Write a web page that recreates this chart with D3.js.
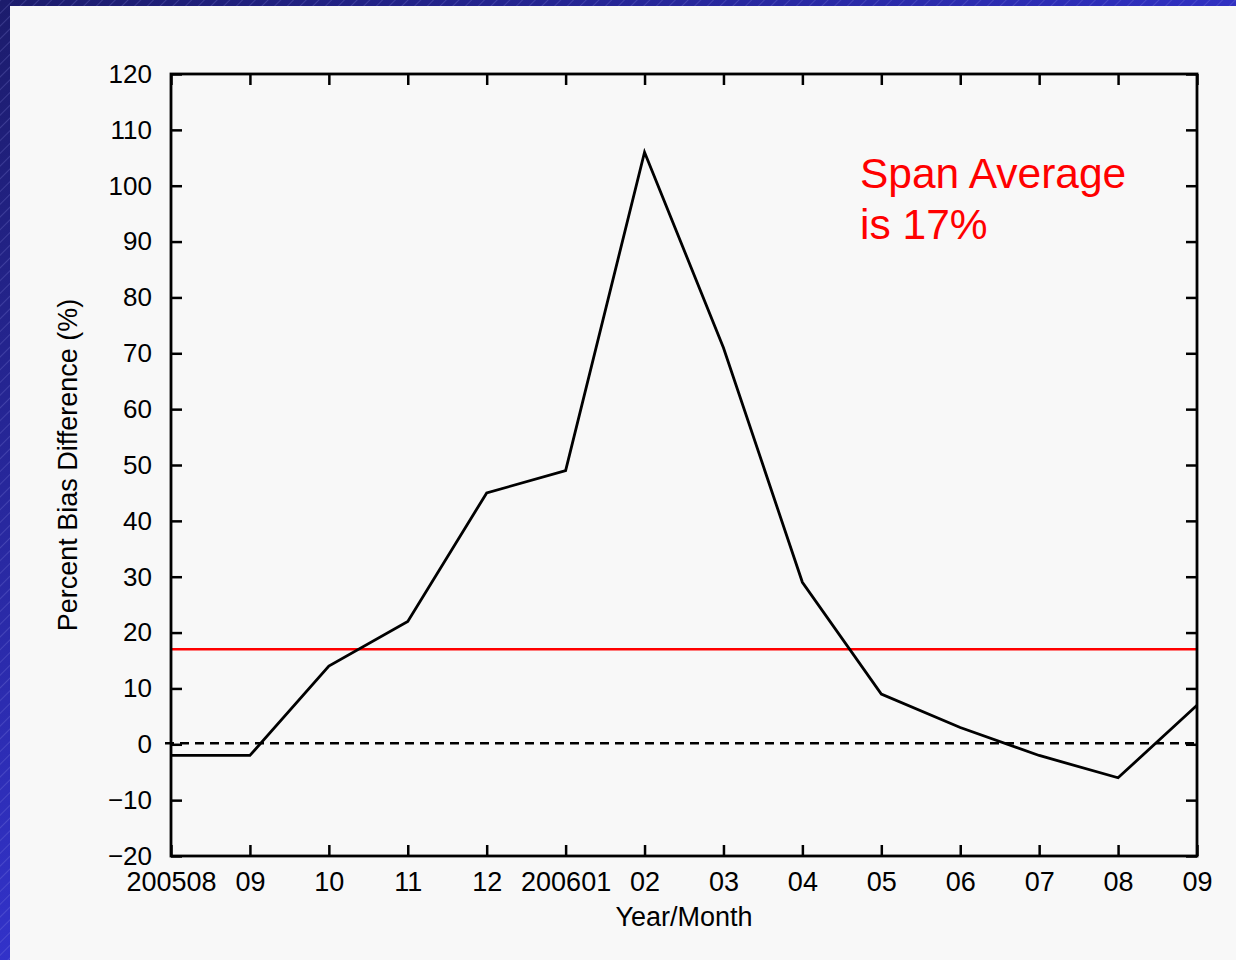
<!DOCTYPE html>
<html>
<head>
<meta charset="utf-8">
<script src="https://cdn.jsdelivr.net/npm/d3@7"></script>
<style>
  body { margin: 0; background: #f8f8f8; }
  svg text { font-family: "Liberation Sans", Helvetica, Arial, sans-serif; }
</style>
</head>
<body>
<div id="chart"></div>
<script>
// Monthly percent bias difference, 2005/08 .. 2006/09
const months = ["200508", "09", "10", "11", "12", "200601", "02", "03", "04", "05", "06", "07", "08", "09"];
const biasDiff = [-2, -2, 14, 22, 45, 49, 106, 71, 29, 9, 3, -2, -6, 7];
const spanAverage = 17;
const yTicks = [-20, -10, 0, 10, 20, 30, 40, 50, 60, 70, 80, 90, 100, 110, 120];

const W = 1236, H = 960;
const margin = {top: 74, right: 39, bottom: 104, left: 171};
const width = W - margin.left - margin.right;
const height = H - margin.top - margin.bottom;

const root = d3.select("#chart").append("svg")
  .attr("width", W)
  .attr("height", H);

// Slide background: blue hatched frame
const defs = root.append("defs");
const grad = defs.append("linearGradient")
  .attr("id", "blueGrad")
  .attr("gradientUnits", "userSpaceOnUse")
  .attr("x1", 0).attr("y1", 0).attr("x2", 500).attr("y2", 700);
grad.append("stop").attr("offset", 0).attr("stop-color", "#1c1c6c");
grad.append("stop").attr("offset", 1).attr("stop-color", "#3434d2");

const hatch = defs.append("pattern")
  .attr("id", "hatch")
  .attr("patternUnits", "userSpaceOnUse")
  .attr("width", 9).attr("height", 9)
  .attr("patternTransform", "rotate(45)");
hatch.append("line")
  .attr("x1", 0).attr("y1", 0).attr("x2", 0).attr("y2", 9)
  .attr("stroke", "#9a9aee").attr("stroke-width", 1).attr("opacity", 0.45);

root.append("rect").attr("width", W).attr("height", H).attr("fill", "url(#blueGrad)");
root.append("rect").attr("width", W).attr("height", H).attr("fill", "url(#hatch)");
root.append("rect").attr("x", 10).attr("y", 6).attr("width", W - 10).attr("height", H - 6)
  .attr("fill", "#f8f8f8");

const svg = root.append("g")
  .attr("transform", "translate(" + margin.left + "," + margin.top + ")");

let xScale = d3.scalePoint()
  .domain(d3.range(months.length))
  .range([0, width]);

let yScale = d3.scaleLinear()
  .domain([-20, 120])
  .range([height, 0]);

const tickLen = 11;

// Axes: gnuplot style, ticks pointing inwards on all four sides
svg.append("g")
  .attr("class", "x-axis")
  .attr("transform", "translate(0," + height + ")")
  .call(d3.axisBottom(xScale).tickSize(-tickLen).tickPadding(tickLen + 5).tickFormat(i => months[i]))
  .call(g => g.select(".domain").remove())
  .call(g => g.selectAll("line").attr("stroke", "#000").attr("stroke-width", 2.5))
  .call(g => g.selectAll("text").attr("fill", "#000").style("font-size", "27px"));

svg.append("g")
  .attr("class", "x-axis-top")
  .call(d3.axisTop(xScale).tickSize(-tickLen).tickFormat(""))
  .call(g => g.select(".domain").remove())
  .call(g => g.selectAll("line").attr("stroke", "#000").attr("stroke-width", 2.5));

svg.append("g")
  .attr("class", "y-axis")
  .call(d3.axisLeft(yScale).tickValues(yTicks).tickSize(-tickLen).tickPadding(tickLen + 8)
    .tickFormat(d => d < 0 ? "\u2212" + Math.abs(d) : d))
  .call(g => g.select(".domain").remove())
  .call(g => g.selectAll("line").attr("stroke", "#000").attr("stroke-width", 2.5))
  .call(g => g.selectAll("text").attr("fill", "#000").style("font-size", "26px"));

svg.append("g")
  .attr("class", "y-axis-right")
  .attr("transform", "translate(" + width + ",0)")
  .call(d3.axisRight(yScale).tickValues(yTicks).tickSize(-tickLen).tickFormat(""))
  .call(g => g.select(".domain").remove())
  .call(g => g.selectAll("line").attr("stroke", "#000").attr("stroke-width", 2.5));

// Zero reference (dashed) and span average (red)
svg.append("line")
  .attr("x1", -6).attr("x2", width)
  .attr("y1", yScale(0) - 1).attr("y2", yScale(0) - 1)
  .attr("stroke", "#000").attr("stroke-width", 2.5)
  .attr("stroke-dasharray", "9,6");

svg.append("line")
  .attr("x1", 0).attr("x2", width)
  .attr("y1", yScale(spanAverage)).attr("y2", yScale(spanAverage))
  .attr("stroke", "#ff0000").attr("stroke-width", 2.5);

// Data line
const line = d3.line()
  .x((d, i) => xScale(i))
  .y(d => yScale(d));

svg.append("path")
  .datum(biasDiff)
  .attr("fill", "none")
  .attr("stroke", "#000")
  .attr("stroke-width", 2.8)
  .attr("stroke-linejoin", "miter")
  .attr("d", line);

// Frame
svg.append("rect")
  .attr("width", width).attr("height", height)
  .attr("fill", "none").attr("stroke", "#000").attr("stroke-width", 2.8);

// Titles
svg.append("text")
  .attr("x", width / 2)
  .attr("y", height + 70)
  .attr("text-anchor", "middle")
  .style("font-size", "27px")
  .text("Year/Month");

svg.append("text")
  .attr("transform", "translate(" + (-94) + "," + (height / 2) + ") rotate(-90)")
  .attr("text-anchor", "middle")
  .style("font-size", "27px")
  .text("Percent Bias Difference (%)");

// Annotation
const note = svg.append("text")
  .attr("fill", "#ff0000")
  .style("font-size", "42.5px");
note.append("tspan").attr("x", 689).attr("y", 114).text("Span Average");
note.append("tspan").attr("x", 689).attr("y", 165).text("is 17%");
</script>
</body>
</html>
